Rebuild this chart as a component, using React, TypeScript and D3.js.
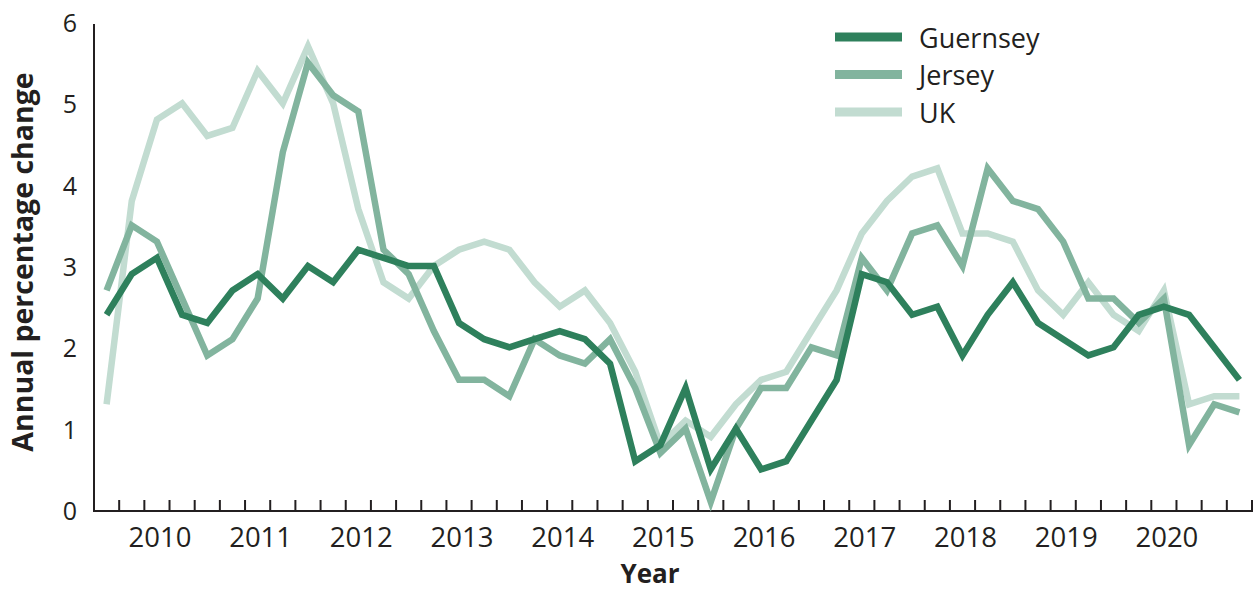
import React from "react";
import * as d3 from "d3";

// quarterly, 2009 Q3 .. 2020 Q4
const quarters = [
  "2009 Q3", "2009 Q4",
  "2010 Q1", "2010 Q2", "2010 Q3", "2010 Q4",
  "2011 Q1", "2011 Q2", "2011 Q3", "2011 Q4",
  "2012 Q1", "2012 Q2", "2012 Q3", "2012 Q4",
  "2013 Q1", "2013 Q2", "2013 Q3", "2013 Q4",
  "2014 Q1", "2014 Q2", "2014 Q3", "2014 Q4",
  "2015 Q1", "2015 Q2", "2015 Q3", "2015 Q4",
  "2016 Q1", "2016 Q2", "2016 Q3", "2016 Q4",
  "2017 Q1", "2017 Q2", "2017 Q3", "2017 Q4",
  "2018 Q1", "2018 Q2", "2018 Q3", "2018 Q4",
  "2019 Q1", "2019 Q2", "2019 Q3", "2019 Q4",
  "2020 Q1", "2020 Q2", "2020 Q3", "2020 Q4"
];

const years = ["2010", "2011", "2012", "2013", "2014", "2015", "2016", "2017", "2018", "2019", "2020"];

const guernsey = [
  2.4, 2.9, 3.1, 2.4, 2.3, 2.7, 2.9, 2.6, 3.0, 2.8, 3.2, 3.1, 3.0, 3.0, 2.3, 2.1,
  2.0, 2.1, 2.2, 2.1, 1.8, 0.6, 0.8, 1.5, 0.5, 1.0, 0.5, 0.6, 1.1, 1.6, 2.9, 2.8,
  2.4, 2.5, 1.9, 2.4, 2.8, 2.3, 2.1, 1.9, 2.0, 2.4, 2.5, 2.4, 2.0, 1.6
];

const jersey = [
  2.7, 3.5, 3.3, 2.6, 1.9, 2.1, 2.6, 4.4, 5.5, 5.1, 4.9, 3.2, 2.9, 2.2, 1.6, 1.6,
  1.4, 2.1, 1.9, 1.8, 2.1, 1.5, 0.7, 1.0, 0.1, 1.0, 1.5, 1.5, 2.0, 1.9, 3.1, 2.7,
  3.4, 3.5, 3.0, 4.2, 3.8, 3.7, 3.3, 2.6, 2.6, 2.3, 2.6, 0.8, 1.3, 1.2
];

const uk = [
  1.3, 3.8, 4.8, 5.0, 4.6, 4.7, 5.4, 5.0, 5.7, 5.0, 3.7, 2.8, 2.6, 3.0, 3.2, 3.3,
  3.2, 2.8, 2.5, 2.7, 2.3, 1.7, 0.8, 1.1, 0.9, 1.3, 1.6, 1.7, 2.2, 2.7, 3.4, 3.8,
  4.1, 4.2, 3.4, 3.4, 3.3, 2.7, 2.4, 2.8, 2.4, 2.2, 2.7, 1.3, 1.4, 1.4
];

const yTicks = [0, 1, 2, 3, 4, 5, 6];

const seriesList = [
  { name: "Guernsey", values: guernsey, color: "#2e805c" },
  { name: "Jersey", values: jersey, color: "#82b49e" },
  { name: "UK", values: uk, color: "#c2dcd1" }
];

const ink = "#231f20";
const font = "'Open Sans', sans-serif";

const App = () => {
  const width = 1257,
    height = 594;
  const left = 94,
    right = 1252,
    top = 22,
    bottom = 510;

  const x = d3.scaleBand<string>().domain(quarters).range([left, right]).padding(0);
  const bw = x.bandwidth();
  const y = d3.scaleLinear().domain([0, 6]).range([bottom, top]);

  const line = d3
    .line<number>()
    .x((_, i) => (x(quarters[i]) as number) + bw / 2)
    .y(d => y(d));

  // draw lightest first so Guernsey sits on top
  const drawOrder = [...seriesList].reverse();

  return (
    <svg width={width} height={height} style={{ position: "absolute", left: 0, top: 0, background: "#fff" }}>
      {/* y axis */}
      <line x1={left} x2={left} y1={top + 2} y2={bottom + 1} stroke={ink} strokeWidth={2} />
      {yTicks.map(t => (
        <text
          key={t}
          x={77}
          y={y(t)}
          textAnchor="end"
          dominantBaseline="central"
          fontFamily={font}
          fontSize={25}
          fill={ink}
        >
          {t}
        </text>
      ))}
      <text
        transform={`translate(33,262) rotate(-90)`}
        textAnchor="middle"
        fontFamily={font}
        fontWeight="bold"
        fontSize={28.5}
        fill={ink}
      >
        Annual percentage change
      </text>

      {/* x axis */}
      <line x1={left - 1} x2={right + 1} y1={bottom + 1} y2={bottom + 1} stroke={ink} strokeWidth={2} />
      {quarters.map(q => {
        const tx = (x(q) as number) + bw;
        return <line key={q} x1={tx} x2={tx} y1={bottom + 1} y2={bottom - 10} stroke={ink} strokeWidth={2} />;
      })}
      {years.map(yr => (
        <text
          key={yr}
          x={(x(`${yr} Q1`) as number) + bw / 2 + 3}
          y={547}
          textAnchor="middle"
          fontFamily={font}
          fontSize={27.5}
          fill={ink}
        >
          {yr}
        </text>
      ))}
      <text x={650} y={583} textAnchor="middle" fontFamily={font} fontWeight="bold" fontSize={26} fill={ink}>
        Year
      </text>

      {/* series */}
      {drawOrder.map(s => (
        <path
          key={s.name}
          d={line(s.values) as string}
          fill="none"
          stroke={s.color}
          strokeWidth={6.5}
          strokeLinejoin="miter"
        />
      ))}

      {/* legend */}
      {seriesList.map((s, i) => {
        const ly = 37 + i * 37.5;
        return (
          <g key={s.name}>
            <line x1={835} x2={902} y1={ly} y2={ly} stroke={s.color} strokeWidth={9} />
            <text x={919} y={ly} dominantBaseline="central" fontFamily={font} fontSize={27} fill={ink}>
              {s.name}
            </text>
          </g>
        );
      })}
    </svg>
  );
};

export default App;
